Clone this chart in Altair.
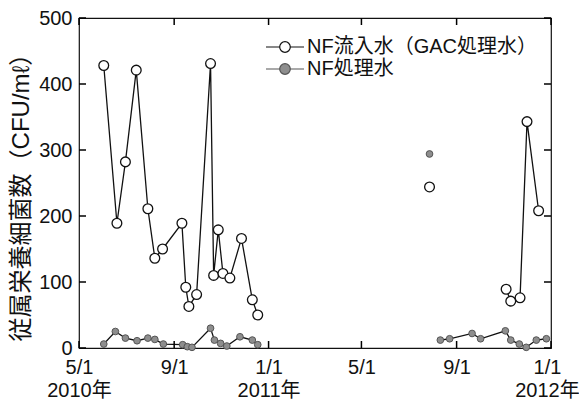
import altair as alt
import pandas as pd

S1 = "NF流入水（GAC処理水）"
S2 = "NF処理水"

# NF inflow (GAC treated water), 2010 campaign
s1_dates_a = ["2010-06-02", "2010-06-19", "2010-06-30", "2010-07-14", "2010-07-29",
              "2010-08-07", "2010-08-17", "2010-09-11", "2010-09-16", "2010-09-20",
              "2010-09-30", "2010-10-18", "2010-10-22", "2010-10-28", "2010-11-03",
              "2010-11-12", "2010-11-27", "2010-12-11", "2010-12-18"]
s1_vals_a = [428, 189, 282, 421, 211, 136, 150, 189, 92, 63, 81, 431, 110, 179, 113,
             106, 166, 73, 50]
s1_dates_b = ["2011-07-28"]
s1_vals_b = [244]
s1_dates_c = ["2011-11-04", "2011-11-10", "2011-11-22", "2011-12-01", "2011-12-16"]
s1_vals_c = [89, 71, 76, 343, 208]

# NF treated water
s2_dates_a = ["2010-06-02", "2010-06-17", "2010-06-30", "2010-07-15", "2010-07-29",
              "2010-08-07", "2010-08-18", "2010-09-12", "2010-09-18", "2010-09-24",
              "2010-10-18", "2010-10-23", "2010-10-31", "2010-11-08", "2010-11-25",
              "2010-12-11", "2010-12-18"]
s2_vals_a = [6, 25, 15, 11, 15, 13, 6, 5, 2, 1, 30, 12, 7, 3, 17, 12, 5]
s2_dates_b = ["2011-07-28"]
s2_vals_b = [294]
s2_dates_c = ["2011-08-11", "2011-08-23", "2011-09-21", "2011-10-02", "2011-11-03",
              "2011-11-10", "2011-11-21", "2011-11-30", "2011-12-13", "2011-12-26"]
s2_vals_c = [12, 14, 22, 14, 26, 12, 6, 1, 12, 14]

x_tick_dates = ["2010-05-01", "2010-09-01", "2011-01-01", "2011-05-01", "2011-09-01",
                "2012-01-01"]
y_ticks = [0, 100, 200, 300, 400, 500]

rows = []
for series, seg, ds, vs in [
    (S1, "1a", s1_dates_a, s1_vals_a), (S1, "1b", s1_dates_b, s1_vals_b),
    (S1, "1c", s1_dates_c, s1_vals_c), (S2, "2a", s2_dates_a, s2_vals_a),
    (S2, "2b", s2_dates_b, s2_vals_b), (S2, "2c", s2_dates_c, s2_vals_c)]:
    for d, v in zip(ds, vs):
        rows.append({"date": d, "value": v, "series": series, "seg": seg})
df = pd.DataFrame(rows)
xt_df = pd.DataFrame({"date": x_tick_dates})
yt_df = pd.DataFrame({"value": y_ticks})

x_ticks = [alt.DateTime(year=int(d[:4]), month=int(d[5:7]), date=1, utc=True)
           for d in x_tick_dates]

FONT = "Liberation Sans, Noto Sans CJK JP"
W, H = 472, 330
TK = 7  # inward tick length

xscale = alt.Scale(type="utc", domain=[x_ticks[0], x_ticks[-1]])
yscale = alt.Scale(domain=[0, 500], nice=False)

label_expr = ("[utcFormat(datum.value, '%-m/%-d'), "
              "(utcmonth(datum.value) == 0 || (utcyear(datum.value) == 2010 && utcmonth(datum.value) == 4))"
              " ? utcyear(datum.value) + '年' : '']")

x_main = alt.X("date:T", scale=xscale, title=None,
               axis=alt.Axis(values=x_ticks, labelExpr=label_expr, ticks=False,
                             domain=False, grid=False,
                             labelFontSize=20, labelPadding=9, labelLineHeight=23,
                             labelOverlap=False, labelBound=False, labelFlush=False,
                             labelOffset={"condition": {"test": "utcyear(datum.value) == 2012",
                                                        "value": -4}, "value": 0},
                             labelColor="#111", labelFont=FONT))
y_main = alt.Y("value:Q", scale=yscale,
               title="従属栄養細菌数（CFU/mℓ）",
               axis=alt.Axis(values=y_ticks, ticks=False, domain=False, grid=False,
                             labelFontSize=20, labelPadding=7, labelColor="#111",
                             labelFont=FONT, titleFont=FONT, titleFontSize=24,
                             titleFontWeight="normal", titleColor="#111",
                             titleX=-58, titleY=173, titleAngle=-90,
                             titleAlign="center", titleBaseline="middle"))

base = alt.Chart(df)

lines = base.mark_line(color="#111", strokeWidth=1.3).encode(
    x=x_main, y=y_main, detail="seg:N")

# legend glyph: short line through a marker, spanning about 38 px
legend_path = ("M-1.9,0H-0.53A0.53,0.53 0 1,1 0.53,0H1.9M0.53,0A0.53,0.53 0 1,1 -0.53,0")

fill_scale = alt.Scale(domain=[S1, S2], range=["#ffffff", "#8e8e8e"])
stroke_scale = alt.Scale(domain=[S1, S2], range=["#111111", "#555555"])

pts = base.mark_point(filled=True, opacity=1).encode(
    x="date:T",
    y="value:Q",
    fill=alt.Fill("series:N", scale=fill_scale, sort=[S1, S2],
                  legend=alt.Legend(title=None, orient="none", legendX=186, legendY=18,
                                    symbolType=legend_path, symbolSize=400,
                                    symbolOffset=9, symbolStrokeWidth=1.2,
                                    labelFontSize=20, labelFont=FONT, labelColor="#111",
                                    labelOffset=11, labelLimit=0, rowPadding=1,
                                    padding=0)),
    stroke=alt.Stroke("series:N", scale=stroke_scale, sort=[S1, S2]),
    size=alt.condition(alt.datum.series == S1, alt.value(95), alt.value(45)),
    strokeWidth=alt.condition(alt.datum.series == S1, alt.value(1.3), alt.value(1.0)),
)

# inward axis ticks on all four edges of the frame
tick_mark = dict(color="#000", strokeWidth=1.5)
xt = alt.Chart(xt_df)
yt = alt.Chart(yt_df)
ticks_bottom = xt.mark_rule(**tick_mark).encode(
    x="date:T", y=alt.value(H), y2=alt.value(H - TK))
ticks_top = xt.mark_rule(**tick_mark).encode(
    x="date:T", y=alt.value(0), y2=alt.value(TK))
ticks_left = yt.mark_rule(**tick_mark).encode(
    y="value:Q", x=alt.value(0), x2=alt.value(TK))
ticks_right = yt.mark_rule(**tick_mark).encode(
    y="value:Q", x=alt.value(W - TK), x2=alt.value(W))

chart = alt.layer(lines, ticks_bottom, ticks_top, ticks_left, ticks_right, pts).properties(
    width=W, height=H,
    autosize=alt.AutoSizeParams(type="none"),
    padding={"left": 71, "top": 10, "right": 28, "bottom": 53},
    background="white",
).configure_view(stroke="#111", strokeWidth=1.2)

chart.save("out.html", embed_options={"renderer": "svg", "actions": False})
